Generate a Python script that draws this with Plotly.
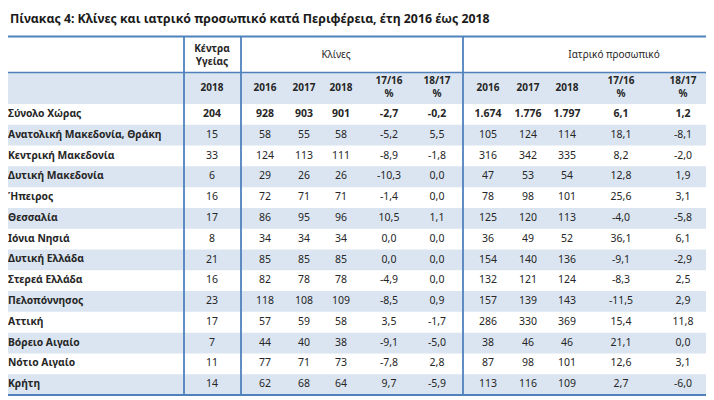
import plotly.graph_objects as go

# data (Πίνακας 4)
regions = ["Σύνολο Χώρας", "Ανατολική Μακεδονία, Θράκη", "Κεντρική Μακεδονία",
           "Δυτική Μακεδονία", "Ήπειρος", "Θεσσαλία", "Ιόνια Νησιά", "Δυτική Ελλάδα",
           "Στερεά Ελλάδα", "Πελοπόννησος", "Αττική", "Βόρειο Αιγαίο", "Νότιο Αιγαίο", "Κρήτη"]
health_centres_2018 = [204, 15, 33, 6, 16, 17, 8, 21, 16, 23, 17, 7, 11, 14]
beds_2016 = [928, 58, 124, 29, 72, 86, 34, 85, 82, 118, 57, 44, 77, 62]
beds_2017 = [903, 55, 113, 26, 71, 95, 34, 85, 78, 108, 59, 40, 71, 68]
beds_2018 = [901, 58, 111, 26, 71, 96, 34, 85, 78, 109, 58, 38, 73, 64]
beds_17_16 = [-2.7, -5.2, -8.9, -10.3, -1.4, 10.5, 0.0, 0.0, -4.9, -8.5, 3.5, -9.1, -7.8, 9.7]
beds_18_17 = [-0.2, 5.5, -1.8, 0.0, 0.0, 1.1, 0.0, 0.0, 0.0, 0.9, -1.7, -5.0, 2.8, -5.9]
staff_2016 = [1674, 105, 316, 47, 78, 125, 36, 154, 132, 157, 286, 38, 87, 113]
staff_2017 = [1776, 124, 342, 53, 98, 120, 49, 140, 121, 139, 330, 46, 98, 116]
staff_2018 = [1797, 114, 335, 54, 101, 113, 52, 136, 124, 143, 369, 46, 101, 109]
staff_17_16 = [6.1, 18.1, 8.2, 12.8, 25.6, -4.0, 36.1, -9.1, -8.3, -11.5, 15.4, 21.1, 12.6, 2.7]
staff_18_17 = [1.2, -8.1, -2.0, 1.9, 3.1, -5.8, 6.1, -2.9, 2.5, 2.9, 11.8, 0.0, 3.1, -6.0]

year_labels = ["2018", "2016", "2017", "2018", "17/16<br>%", "18/17<br>%",
               "2016", "2017", "2018", "17/16<br>%", "18/17<br>%"]
group_labels = ["Κέντρα<br>Υγείας", "Κλίνες", "Ιατρικό προσωπικό"]
title = "Πίνακας 4: Κλίνες και ιατρικό προσωπικό κατά Περιφέρεια, έτη 2016 έως 2018"

FONT = "Noto Sans"
TXT = "#262626"
BAND = "#dbe5f1"
LINE = "#4f81bd"

# layout in page pixels (y down); the page body has an 8px margin,
# so the axes start at 8 to line the units up with the screen
PAD = 8
LEFT, RIGHT = 4, 706
TOP, HEAD2, BODY, BOTTOM = 36.5, 72.5, 104, 395
ROW_H = (BOTTOM - BODY) / len(regions)
col_x = [212, 265, 304, 341, 389, 437, 488, 528, 567, 621, 683]
vlines = [184, 241, 463]
group_x = [212, 336, 614]


def fmt_int(v):
    return f"{v:,}".replace(",", ".")


def fmt_pct(v):
    return f"{v:.1f}".replace(".", ",")


def row_y(i):
    return BODY + (i + 0.5) * ROW_H


columns = [
    (health_centres_2018, fmt_int), (beds_2016, fmt_int), (beds_2017, fmt_int),
    (beds_2018, fmt_int), (beds_17_16, fmt_pct), (beds_18_17, fmt_pct),
    (staff_2016, fmt_int), (staff_2017, fmt_int), (staff_2018, fmt_int),
    (staff_17_16, fmt_pct), (staff_18_17, fmt_pct),
]

fig = go.Figure()
ys = [row_y(i) for i in range(len(regions))]

# banding
shapes = [dict(type="rect", x0=LEFT, x1=RIGHT, y0=HEAD2, y1=BODY,
               fillcolor=BAND, line_width=0, layer="below")]
for i in range(len(regions)):
    if i % 2 == 1:
        shapes.append(dict(type="rect", x0=LEFT, x1=RIGHT, y0=BODY + i * ROW_H,
                           y1=BODY + (i + 1) * ROW_H, fillcolor=BAND, line_width=0, layer="below"))
# rules
shapes.append(dict(type="line", x0=LEFT, x1=RIGHT, y0=TOP, y1=TOP, line=dict(color=LINE, width=2.2)))
shapes.append(dict(type="line", x0=LEFT, x1=RIGHT, y0=HEAD2, y1=HEAD2, line=dict(color=LINE, width=1.5)))
shapes.append(dict(type="line", x0=LEFT, x1=RIGHT, y0=BOTTOM, y1=BOTTOM, line=dict(color=LINE, width=2.2)))
for vx in vlines:
    shapes.append(dict(type="line", x0=vx, x1=vx, y0=TOP, y1=BOTTOM, line=dict(color=LINE, width=1.8)))

# region names
fig.add_trace(go.Scatter(
    x=[8] * len(regions), y=ys, mode="text", text=["<b>" + r + "</b>" for r in regions],
    textposition="middle right", textfont=dict(family=FONT, size=10.3, color=TXT),
    hoverinfo="skip"))

# value columns
for cx, (vals, f) in zip(col_x, columns):
    txt = [f(v) for v in vals]
    txt[0] = "<b>" + txt[0] + "</b>"
    fig.add_trace(go.Scatter(
        x=[cx] * len(vals), y=ys, mode="text", text=txt, textposition="middle center",
        textfont=dict(family=FONT, size=10.5, color=TXT), hoverinfo="skip"))

# header row 2 (years)
fig.add_trace(go.Scatter(
    x=col_x, y=[(HEAD2 + BODY) / 2] * len(col_x), mode="text",
    text=["<b>" + t + "</b>" for t in year_labels], textposition="middle center",
    textfont=dict(family=FONT, size=10, color=TXT), hoverinfo="skip"))

# header row 1 (groups)
fig.add_trace(go.Scatter(
    x=group_x, y=[(TOP + HEAD2) / 2 + 1] * 3, mode="text",
    text=["<b>" + t + "</b>" for t in group_labels[:1]] + group_labels[1:],
    textposition="middle center", textfont=dict(family=FONT, size=10, color=TXT),
    hoverinfo="skip"))

fig.update_layout(
    width=714 - PAD, height=400 - PAD,
    margin=dict(l=0, r=0, t=0, b=0),
    paper_bgcolor="white", plot_bgcolor="white",
    showlegend=False,
    shapes=shapes,
    xaxis=dict(range=[PAD, 714], visible=False, fixedrange=True),
    yaxis=dict(range=[400, PAD], visible=False, fixedrange=True),
    annotations=[dict(text="<b>" + title + "</b>", x=PAD, y=PAD, xref="x", yref="y",
                      xanchor="left", yanchor="top", showarrow=False,
                      font=dict(family=FONT, size=12.3, color="#1a1a1a"))],
)

fig.write_html("out.html")
